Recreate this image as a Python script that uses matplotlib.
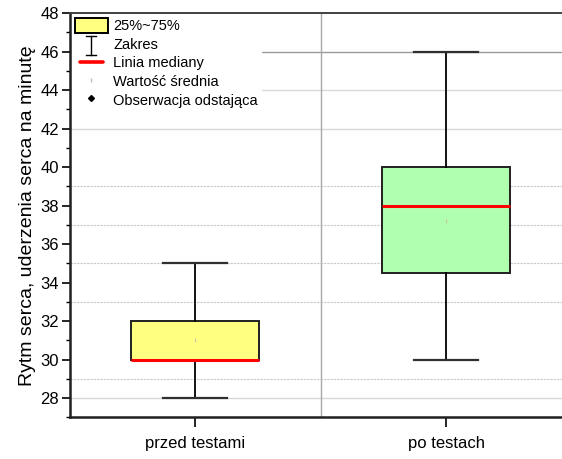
import matplotlib.pyplot as plt
from matplotlib.patches import Patch
from matplotlib.lines import Line2D
from matplotlib.legend_handler import HandlerBase

plt.rcParams["font.family"] = ["Liberation Sans", "DejaVu Sans"]

# data
categories = ["przed testami", "po testach"]
whisker_low = [28, 30]
q1 = [30, 34.5]
median = [30, 38]
q3 = [32, 40]
whisker_high = [35, 46]
means = [31, 37.2]
box_colors = ["#FFFF80", "#B0FFB0"]

y_label = "Rytm serca, uderzenia serca na minutę"
legend_labels = ["25%~75%", "Zakres", "Linia mediany", "Wartość średnia", "Obserwacja odstająca"]


class RangeHandler(HandlerBase):
    # the small "I" symbol used for Zakres
    def create_artists(self, legend, orig_handle, xdescent, ydescent,
                       width, height, fontsize, trans):
        cx = width * 0.5 - xdescent
        y0 = -ydescent - height * 0.25
        y1 = -ydescent + height * 1.0
        cw = width * 0.15
        return [
            Line2D([cx, cx], [y0, y1], color="black", lw=1.0, transform=trans),
            Line2D([cx - cw, cx + cw], [y0, y0], color="black", lw=1.0, transform=trans),
            Line2D([cx - cw, cx + cw], [y1, y1], color="black", lw=1.0, transform=trans),
        ]


class MedianHandler(HandlerBase):
    # shorter red line, centred in the handle box
    def create_artists(self, legend, orig_handle, xdescent, ydescent,
                       width, height, fontsize, trans):
        y = -ydescent + height * 0.5
        return [Line2D([width * 0.15 - xdescent, width * 0.85 - xdescent], [y, y],
                       color="red", lw=2.6, solid_capstyle="round", transform=trans)]


fig = plt.figure(figsize=(5.62, 4.59), dpi=100)
ax = fig.add_axes([0.1246, 0.0905, 0.8924, 0.881])

stats = []
for i in range(len(categories)):
    stats.append({
        "whislo": whisker_low[i],
        "q1": q1[i],
        "med": median[i],
        "q3": q3[i],
        "whishi": whisker_high[i],
        "mean": means[i],
        "fliers": [],
    })

bp = ax.bxp(
    stats,
    positions=[1, 2],
    widths=0.51,
    capwidths=0.255,
    patch_artist=True,
    showmeans=True,
    showfliers=False,
    boxprops=dict(edgecolor="#202020", linewidth=1.4),
    medianprops=dict(color="red", linewidth=2.2),
    whiskerprops=dict(color="black", linewidth=1.3),
    capprops=dict(color="#303030", linewidth=1.6),
    meanprops=dict(marker="|", markersize=3, markeredgecolor="#c8c8a0", markeredgewidth=0.8),
    zorder=3,
)
for patch, c in zip(bp["boxes"], box_colors):
    patch.set_facecolor(c)

# grid lines as in the original
for v in [28, 42, 44]:
    ax.axhline(v, color="#d8d8d8", lw=1.0, zorder=0)
ax.axhline(46, color="#999999", lw=1.0, zorder=0)
for v in [29, 33, 35, 37, 39]:
    ax.axhline(v, color="#c8c8c8", lw=0.8, ls=(0, (2, 1)), zorder=0)
ax.axvline(1.5, color="#a8a8a8", lw=1.0, zorder=0)

ax.set_xlim(0.5, 2.5)
ax.set_ylim(27, 48)
ax.set_xticks([1, 2])
ax.set_xticklabels(categories, fontsize=12)
ax.set_yticks(range(28, 49, 2))
ax.set_yticks(range(27, 49, 2), minor=True)
ax.tick_params(axis="y", which="major", direction="out", length=6, width=1.2, labelsize=12, pad=2)
ax.tick_params(axis="y", which="minor", direction="out", length=3, width=1.0)
ax.tick_params(axis="x", direction="out", length=7, width=1.2, pad=6)

ax.set_ylabel(y_label, fontsize=14, labelpad=3)

for side in ["left", "bottom"]:
    ax.spines[side].set_linewidth(1.8)
    ax.spines[side].set_color("#202020")
ax.spines["top"].set_linewidth(1.4)
ax.spines["top"].set_color("#404040")

handles = [
    Patch(facecolor=box_colors[0], edgecolor="black", linewidth=1.4),
    "range",
    1,
    Line2D([], [], marker="|", ls="none", markersize=3, markeredgecolor="#c0c0c0"),
    Line2D([], [], marker="D", ls="none", markersize=3, color="black"),
]
leg = ax.legend(
    handles, legend_labels,
    handler_map={str: RangeHandler(), int: MedianHandler()},
    loc="upper left",
    bbox_to_anchor=(0.0, 1.0),
    fontsize=10.5,
    frameon=True,
    fancybox=False,
    edgecolor="white",
    framealpha=1,
    handlelength=2.26,
    handleheight=1.2,
    handletextpad=0.4,
    labelspacing=0.22,
    borderpad=0.2,
    borderaxespad=0.12,
)
leg.set_zorder(2)

plt.savefig("out.png", dpi=100)
